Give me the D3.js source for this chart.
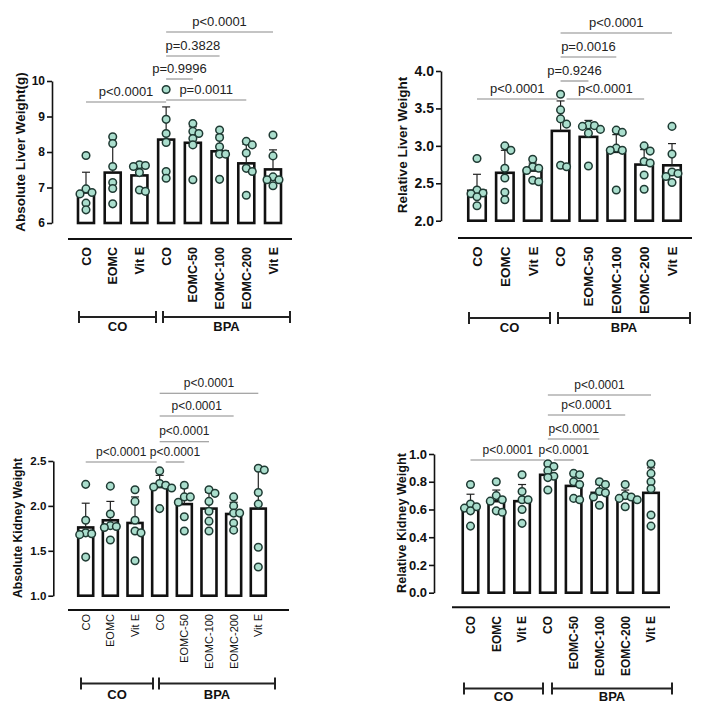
<!DOCTYPE html>
<html>
<head>
<meta charset="utf-8">
<script src="https://cdn.jsdelivr.net/npm/d3@7"></script>
<style>
  body { margin: 0; background: #fff; }
  svg text { font-family: "Liberation Sans", Arial, Helvetica, sans-serif; }
</style>
</head>
<body>
<div id="chart"></div>
<script>
// ---- data ----
const groups = ["CO", "EOMC", "Vit E", "CO", "EOMC-50", "EOMC-100", "EOMC-200", "Vit E"];
const treatments = ["CO", "BPA"];

const liverAbsMean = [6.86, 7.42, 7.34, 8.35, 8.26, 8.02, 7.68, 7.51];
const liverAbsSD   = [0.57, 1.00, 0.29, 0.92, 0.45, 0.46, 0.54, 0.55];
const liverAbsPoints = [
  [7.90, 6.96, 6.86, 6.82, 6.56, 6.37],
  [8.43, 8.24, 7.59, 7.14, 6.97, 6.54],
  [7.64, 7.62, 7.59, 7.42, 6.93, 6.89],
  [9.76, 8.92, 8.52, 8.27, 7.45, 7.26],
  [8.80, 8.58, 8.52, 8.38, 8.20, 7.22],
  [8.62, 8.41, 8.15, 7.94, 7.94, 7.23],
  [8.30, 8.20, 7.97, 7.54, 7.45, 6.78],
  [8.48, 7.89, 7.30, 7.22, 7.22, 7.05]
];
const liverAbsP = [[0, 3, "p<0.0001"], [3, 6, "p=0.0011"], [3, 4, "p=0.9996"], [3, 5, "p=0.3828"], [3, 7, "p<0.0001"]];

const liverRelMean = [2.40, 2.64, 2.67, 3.20, 3.12, 2.92, 2.75, 2.74];
const liverRelSD   = [0.22, 0.30, 0.10, 0.40, 0.22, 0.23, 0.20, 0.29];
const liverRelPoints = [
  [2.83, 2.41, 2.37, 2.36, 2.32, 2.20],
  [3.00, 2.94, 2.70, 2.57, 2.38, 2.28],
  [2.82, 2.72, 2.70, 2.67, 2.54, 2.52],
  [3.69, 3.48, 3.36, 3.29, 2.74, 2.72],
  [3.28, 3.27, 3.26, 3.22, 3.17, 2.73],
  [3.21, 3.18, 2.97, 2.94, 2.94, 2.41],
  [3.00, 2.93, 2.79, 2.77, 2.61, 2.42],
  [3.26, 2.89, 2.65, 2.63, 2.59, 2.51]
];
const liverRelP = [[0, 3, "p<0.0001"], [3, 6, "p<0.0001"], [3, 4, "p=0.9246"], [3, 5, "p=0.0016"], [3, 7, "p<0.0001"]];

const kidneyAbsMean = [1.76, 1.84, 1.81, 2.21, 2.02, 1.97, 1.91, 1.97];
const kidneyAbsSD   = [0.27, 0.21, 0.29, 0.13, 0.18, 0.18, 0.13, 0.45];
const kidneyAbsPoints = [
  [2.24, 1.84, 1.70, 1.69, 1.68, 1.43],
  [2.22, 1.91, 1.78, 1.77, 1.76, 1.62],
  [2.18, 2.05, 1.84, 1.72, 1.70, 1.39],
  [2.39, 2.25, 2.23, 2.21, 2.20, 1.97],
  [2.23, 2.10, 2.10, 2.04, 1.88, 1.72],
  [2.18, 2.14, 2.05, 1.94, 1.83, 1.72],
  [2.10, 2.00, 1.92, 1.92, 1.81, 1.73],
  [2.42, 2.40, 2.15, 2.02, 1.54, 1.32]
];
const kidneyAbsP = [[0, 3, "p<0.0001"], [3, 4, "p<0.0001"], [3, 5, "p<0.0001"], [3, 6, "p<0.0001"], [3, 7, "p<0.0001"]];

const kidneyRelMean = [0.61, 0.66, 0.66, 0.85, 0.77, 0.72, 0.68, 0.72];
const kidneyRelSD   = [0.10, 0.08, 0.12, 0.07, 0.09, 0.06, 0.06, 0.18];
const kidneyRelPoints = [
  [0.78, 0.64, 0.62, 0.61, 0.59, 0.48],
  [0.80, 0.70, 0.67, 0.66, 0.59, 0.58],
  [0.85, 0.73, 0.67, 0.67, 0.60, 0.50],
  [0.93, 0.91, 0.88, 0.84, 0.83, 0.74],
  [0.86, 0.85, 0.80, 0.78, 0.68, 0.67],
  [0.80, 0.78, 0.73, 0.72, 0.69, 0.63],
  [0.78, 0.70, 0.69, 0.68, 0.67, 0.62],
  [0.93, 0.86, 0.80, 0.75, 0.56, 0.48]
];
const kidneyRelP = [[0, 3, "p<0.0001"], [3, 4, "p<0.0001"], [3, 5, "p<0.0001"], [3, 6, "p<0.0001"], [3, 7, "p<0.0001"]];

// ---- layout, one entry per panel ----
const panels = [
  { title: "Absolute Liver Weight(g)", mean: liverAbsMean, sd: liverAbsSD, pts: liverAbsPoints, comps: liverAbsP,
    domain: [6, 10], ticks: [6, 7, 8, 9, 10], fmt: d3.format("d"),
    axisX: 52, yTop: 81, yBot: 223, x0: 86, x1: 273, barW: 16,
    tickFont: 12, yLabX: 20, yLabY: 152, yLabFont: 13.5,
    catTop: 247, catFont: 12.5, catBold: true,
    sepY: 239, sep: [68, 292], brY: 317, br: [[79, 156], [163, 290]], grpY: 331,
    pFont: 13, levels: [102, 100, 79, 56, 32] },
  { title: "Relative Liver Weight", mean: liverRelMean, sd: liverRelSD, pts: liverRelPoints, comps: liverRelP,
    domain: [2, 4], ticks: [2, 2.5, 3, 3.5, 4], fmt: d3.format(".1f"),
    axisX: 441, yTop: 71, yBot: 220.7, x0: 477, x1: 672, barW: 17.5,
    tickFont: 14, yLabX: 402, yLabY: 145, yLabFont: 13.5,
    catTop: 246.5, catFont: 13.5, catBold: true,
    sepY: 238, sep: [458, 692], brY: 318, br: [[469, 550], [558, 690]], grpY: 332,
    pFont: 13, levels: [99, 99, 81, 57, 33] },
  { title: "Absolute Kidney Weight", mean: kidneyAbsMean, sd: kidneyAbsSD, pts: kidneyAbsPoints, comps: kidneyAbsP,
    domain: [1, 2.5], ticks: [1, 1.5, 2, 2.5], fmt: d3.format(".1f"),
    axisX: 53.3, yTop: 461, yBot: 595.7, x0: 85.7, x1: 258.3, barW: 15,
    tickFont: 11.5, yLabX: 18, yLabY: 528, yLabFont: 12.2,
    catTop: 614, catFont: 11, catBold: false,
    sepY: 610, sep: [68, 289], brY: 683.5, br: [[81, 153], [159, 275]], grpY: 699,
    pFont: 12, levels: [462, 462, 441.7, 416, 393.3] },
  { title: "Relative Kidney Weight", mean: kidneyRelMean, sd: kidneyRelSD, pts: kidneyRelPoints, comps: kidneyRelP,
    domain: [0, 1], ticks: [0, 0.2, 0.4, 0.6, 0.8, 1], fmt: d3.format(".1f"),
    axisX: 434, yTop: 454, yBot: 592.7, x0: 470.5, x1: 651, barW: 15.5,
    tickFont: 13, yLabX: 402, yLabY: 523, yLabFont: 12.7,
    catTop: 616, catFont: 12, catBold: true,
    sepY: 607.3, sep: [452, 670], brY: 688.5, br: [[464, 543], [552, 672]], grpY: 701,
    pFont: 12, levels: [460, 460, 439, 415, 395] }
];

const width = 709, height = 709;
const font = "'Liberation Sans', Arial, Helvetica, sans-serif";
const dotFill = "#aadecd", dotStroke = "#1f3a33";
const r = 3.8;

const svg = d3.select("#chart").append("svg")
  .attr("width", width).attr("height", height)
  .attr("viewBox", `0 0 ${width} ${height}`)
  .attr("font-family", font);
svg.append("rect").attr("width", width).attr("height", height).attr("fill", "#fff");

// spread points sideways so they don't sit on top of each other
function swarm(vals, cx, y) {
  const placed = [];
  const step = 6, minD = 5.8;
  vals.slice().sort((a, b) => b - a).forEach(v => {
    const py = y(v);
    for (let k = 0; k < 20; k++) {
      const off = k === 0 ? 0 : (k % 2 ? 1 : -1) * Math.ceil(k / 2) * step;
      const px = cx + off;
      if (placed.every(p => Math.hypot(p.x - px, p.y - py) >= minD)) {
        placed.push({ x: px, y: py });
        break;
      }
    }
  });
  return placed;
}

panels.forEach(P => {
  const g = svg.append("g").attr("font-family", font);
  const y = d3.scaleLinear().domain(P.domain).range([P.yBot, P.yTop]);
  const x = d3.scalePoint().domain(d3.range(groups.length)).range([P.x0, P.x1]);

  // y axis
  const ax = g.append("g")
    .attr("transform", `translate(${P.axisX},0)`)
    .call(d3.axisLeft(y).tickValues(P.ticks).tickFormat(P.fmt).tickSize(5).tickSizeOuter(0).tickPadding(2));
  ax.attr("font-family", font);
  ax.select(".domain").attr("stroke", "#111").attr("stroke-width", 1.6);
  ax.selectAll(".tick line").attr("stroke", "#111").attr("stroke-width", 1.6);
  ax.selectAll(".tick text").attr("fill", "#111").style("font-size", P.tickFont + "px")
    .style("font-weight", "bold");

  g.append("text")
    .attr("transform", `translate(${P.yLabX},${P.yLabY}) rotate(-90)`)
    .attr("text-anchor", "middle").attr("dy", "0.35em")
    .style("font-size", P.yLabFont + "px").style("font-weight", "bold").attr("fill", "#111")
    .text(P.title);

  // bars
  g.selectAll(".bar").data(P.mean).join("rect")
    .attr("x", (d, i) => x(i) - P.barW / 2)
    .attr("y", d => y(d))
    .attr("width", P.barW)
    .attr("height", d => y(P.domain[0]) - y(d))
    .attr("fill", "#fff").attr("stroke", "#111").attr("stroke-width", 2.6);

  // error bars (upper only)
  P.mean.forEach((m, i) => {
    const top = y(m + P.sd[i]);
    g.append("line").attr("x1", x(i)).attr("x2", x(i)).attr("y1", y(m)).attr("y2", top)
      .attr("stroke", "#222").attr("stroke-width", 1.2);
    g.append("line").attr("x1", x(i) - 4).attr("x2", x(i) + 4).attr("y1", top).attr("y2", top)
      .attr("stroke", "#222").attr("stroke-width", 1.2);
  });

  // points
  P.pts.forEach((vals, i) => {
    g.selectAll(null).data(swarm(vals, x(i), y)).join("circle")
      .attr("cx", d => d.x).attr("cy", d => d.y).attr("r", r)
      .attr("fill", dotFill).attr("stroke", dotStroke).attr("stroke-width", 1.5);
  });

  // separator line under plot
  g.append("line").attr("x1", P.sep[0]).attr("x2", P.sep[1]).attr("y1", P.sepY).attr("y2", P.sepY)
    .attr("stroke", "#111").attr("stroke-width", 2);

  // category labels
  groups.forEach((name, i) => {
    g.append("text")
      .attr("transform", `translate(${x(i)},${P.catTop}) rotate(-90)`)
      .attr("text-anchor", "end").attr("dy", "0.36em")
      .attr("font-family", font)
      .style("font-size", P.catFont + "px").style("font-weight", P.catBold ? "bold" : "normal")
      .attr("fill", "#111").text(name);
  });

  // treatment brackets
  P.br.forEach((b, j) => {
    g.append("line").attr("x1", b[0]).attr("x2", b[1]).attr("y1", P.brY).attr("y2", P.brY)
      .attr("stroke", "#222").attr("stroke-width", 2);
    [b[0], b[1]].forEach(bx => g.append("line").attr("x1", bx).attr("x2", bx)
      .attr("y1", P.brY - 6).attr("y2", P.brY + 6).attr("stroke", "#222").attr("stroke-width", 2));
    g.append("text").attr("x", (b[0] + b[1]) / 2).attr("y", P.grpY)
      .attr("text-anchor", "middle").style("font-size", "13px").style("font-weight", "bold")
      .attr("fill", "#111").text(treatments[j]);
  });

  // significance lines
  P.comps.forEach((c, k) => {
    const ly = P.levels[k];
    const shareEnd = P.comps.some((o, m) => m !== k && P.levels[m] === ly && o[0] === c[1]);
    const shareStart = P.comps.some((o, m) => m !== k && P.levels[m] === ly && o[1] === c[0]);
    const xa = x(c[0]) + (shareStart ? 6 : 0);
    const xb = x(c[1]) - (shareEnd ? 3 : 0);
    g.append("line").attr("x1", xa).attr("x2", xb).attr("y1", ly).attr("y2", ly)
      .attr("stroke", "#8a8a8a").attr("stroke-width", 1.1);
    g.append("text").attr("x", (xa + xb) / 2).attr("y", ly - 6.5)
      .attr("text-anchor", "middle").style("font-size", P.pFont + "px")
      .attr("fill", "#222").text(c[2]);
  });
});
</script>
</body>
</html>
